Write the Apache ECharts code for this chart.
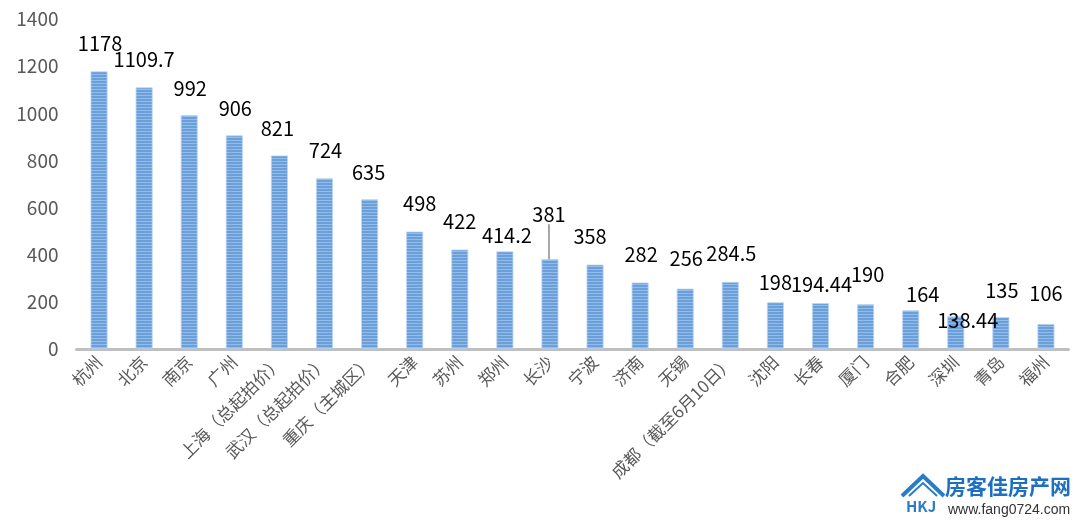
<!DOCTYPE html>
<html><head><meta charset="utf-8">
<script src="https://cdn.jsdelivr.net/npm/echarts@6/dist/echarts.min.js"></script>
<style>html,body{margin:0;padding:0;background:#fff}#c{width:1080px;height:523px}</style>
</head><body><div id="c"></div>
<script>
var categories = ['杭州','北京','南京','广州','上海（总起拍价）','武汉（总起拍价）','重庆（主城区）','天津','苏州','郑州','长沙','宁波','济南','无锡','成都（截至6月10日）','沈阳','长春','厦门','合肥','深圳','青岛','福州'];
var values = [1178,1109.7,992,906,821,724,635,498,422,414.2,381,358,282,256,284.5,198,194.44,190,164,138.44,135,106];
var yTicks = [0,200,400,600,800,1000,1200,1400];
// label nudges (style only): [dx, dy]
var labelNudge = [[1,0],[0,0],[1,1],[1,1],[-2,1],[1,0],[-1,1],[5,0],[0,0],[2,12],[-1,-17],[-5,0],[1,0],[1,-2],[1,-1],[0,8],[1,9],[2,-2],[12,12],[12,32],[1,1],[0,-3]];

var cv = document.createElement('canvas');
cv.width = 4; cv.height = 3;
var g = cv.getContext('2d');
g.fillStyle = '#6a9fda'; g.fillRect(0,0,4,3);
g.fillStyle = '#93bce9'; g.fillRect(0,2,4,1);

var chart = echarts.init(document.getElementById('c'));
var data = values.map(function(v,i){
  var d = {value:v};
  if (i === 10) d.labelLine = {show:true, lineStyle:{color:'#a6a6a6', width:2}};
  return d;
});
chart.setOption({
  animation:false,
  grid:{left:76.5, right:11.5, top:19, bottom:174},
  xAxis:{type:'category', data:categories,
    axisLine:{lineStyle:{color:'#bfbfbf', width:3}},
    axisTick:{show:false},
    axisLabel:{rotate:45, interval:0, color:'#595959', fontSize:17, margin:10, fontFamily:'Noto Sans CJK SC'}},
  yAxis:{type:'value', min:0, max:1400, interval:200,
    axisLine:{show:false}, axisTick:{show:false}, splitLine:{show:false},
    axisLabel:{color:'#595959', fontSize:19, margin:18, fontFamily:'Noto Sans CJK SC',
      formatter:function(v){return yTicks.indexOf(v)>=0? String(v):'';}}},
  series:[{type:'bar', data:data, barWidth:17,
    itemStyle:{color:{image:cv, repeat:'repeat'}, borderColor:'#bcd6f2', borderWidth:0.8},
    label:{show:true, position:'top', distance:18, color:'#000', fontSize:20, fontFamily:'Noto Sans CJK SC',
      formatter:function(p){return String(values[p.dataIndex]);}},
    labelLine:{show:false},
    labelLayout:function(p){var n=labelNudge[p.dataIndex]; return {dx:n[0], dy:n[1]};}
  }],
  graphic:[
    {type:'polyline', shape:{points:[[902,496],[923,476],[944,496]]}, style:{stroke:'#2a7cc7', lineWidth:4, fill:null}},
    {type:'polyline', shape:{points:[[909,496],[923,483],[937,496]]}, style:{stroke:'#2a7cc7', lineWidth:2, fill:null}},
    {type:'text', left:906, top:499, style:{text:'HKJ', fill:'#2a7cc7', font:'bold 15px Noto Sans CJK SC'}},
    {type:'text', left:945, top:476, style:{text:'房客佳房产网', fill:'#1d6fc2', font:'bold 21px Noto Sans CJK SC'}},
    {type:'text', left:948, top:503, style:{text:'www.fang0724.com', fill:'#333', font:'14px Liberation Sans'}}
  ]
});
</script></body></html>
